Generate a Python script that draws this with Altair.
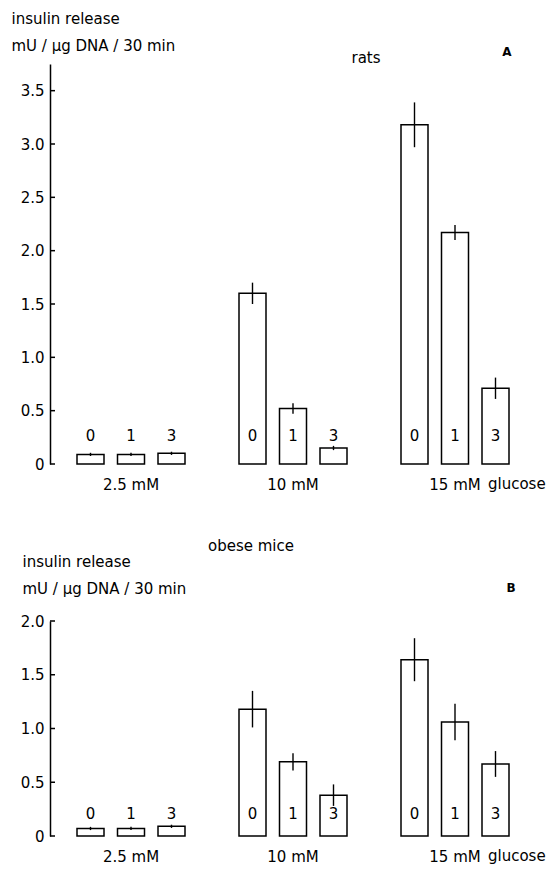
import altair as alt
import pandas as pd

# ---- data ----
groups = ["2.5 mM", "10 mM", "15 mM"]
times = ["0", "1", "3"]

rats_mean = [0.09, 0.09, 0.10, 1.60, 0.52, 0.15, 3.18, 2.17, 0.71]
rats_sem = [0.015, 0.015, 0.015, 0.10, 0.05, 0.02, 0.21, 0.07, 0.10]

mice_mean = [0.07, 0.07, 0.09, 1.18, 0.69, 0.38, 1.64, 1.06, 0.67]
mice_sem = [0.015, 0.015, 0.015, 0.17, 0.08, 0.10, 0.20, 0.17, 0.12]

rats_ticks = [0, 0.5, 1.0, 1.5, 2.0, 2.5, 3.0, 3.5]
mice_ticks = [0, 0.5, 1.0, 1.5, 2.0]

y_title_a = ["insulin release", "mU / μg DNA / 30 min"]
y_title_b = ["insulin  release", "mU / μg DNA / 30 min"]

FONT = "DejaVu Sans"
FS = 15
W = 486


def panel(mean, sem, ticks, ymax, H, y_title, title_x, title_y, label_dy,
          species, sp_x, sp_y, letter, letter_x, letter_y):
    df = pd.DataFrame({
        "glucose": [g for g in groups for _ in times],
        "time": times * 3,
        "mean": mean,
        "sem": sem,
    })
    base = alt.Chart(df)

    x_enc = alt.X(
        "glucose:N", sort=groups,
        scale=alt.Scale(paddingInner=0.25, paddingOuter=0.125),
        axis=alt.Axis(title=None, domain=False, ticks=False, tickSize=0,
                      labelAngle=0, labelPadding=13, labelFont=FONT,
                      labelFontSize=FS, labelColor="black"),
    )
    xo_enc = alt.XOffset("time:N", sort=times,
                         scale=alt.Scale(paddingInner=1 / 3, paddingOuter=1 / 6))
    y_enc = alt.Y(
        "mean:Q",
        scale=alt.Scale(domain=[0, ymax], nice=False, zero=True),
        axis=alt.Axis(
            values=ticks, ticks=False, tickSize=0, grid=False,
            domainColor="black", domainWidth=1.5, labelPadding=6,
            labelFont=FONT, labelFontSize=FS, labelColor="black",
            labelExpr="datum.value == 0 ? '0' : format(datum.value, '.1f')",
            title=y_title, titleAngle=0, titleAlign="left",
            titleBaseline="alphabetic", titleX=title_x, titleY=title_y,
            titleLineHeight=27, titleFont=FONT, titleFontSize=FS,
            titleFontWeight="normal", titleColor="black",
        ),
    )

    bars = base.mark_bar(fill="white", stroke="black", strokeWidth=1.5).encode(
        x=x_enc, xOffset=xo_enc, y=y_enc
    )
    err = base.transform_calculate(
        lo="datum.mean - datum.sem", hi="datum.mean + datum.sem"
    ).mark_rule(color="black", strokeWidth=1.4).encode(
        x=alt.X("glucose:N", sort=groups),
        xOffset=alt.XOffset("time:N", sort=times),
        y="lo:Q", y2="hi:Q",
    )
    labels = base.mark_text(
        font=FONT, fontSize=FS, color="black", baseline="middle", dy=label_dy
    ).encode(
        x=alt.X("glucose:N", sort=groups),
        xOffset=alt.XOffset("time:N", sort=times),
        y=alt.datum(0),
        text="time:N",
    )
    tick_rules = alt.Chart(pd.DataFrame({"v": ticks})).mark_rule(
        color="black", strokeWidth=1.5
    ).encode(y="v:Q", x=alt.value(0), x2=alt.value(5))

    glucose = alt.Chart(pd.DataFrame({"glucose": ["15 mM"], "t": ["glucose"]})).mark_text(
        font=FONT, fontSize=FS, color="black", align="left", baseline="top",
        dx=33, dy=13,
    ).encode(x=alt.X("glucose:N", sort=groups), y=alt.datum(0), text="t:N")

    sp = alt.Chart(pd.DataFrame({"t": [species]})).mark_text(
        font=FONT, fontSize=FS, color="black", baseline="middle"
    ).encode(x=alt.value(sp_x), y=alt.value(sp_y), text="t:N")

    let = alt.Chart(pd.DataFrame({"t": [letter]})).mark_text(
        font=FONT, fontSize=12, fontWeight="bold", color="black", baseline="middle"
    ).encode(x=alt.value(letter_x), y=alt.value(letter_y), text="t:N")

    return alt.layer(bars, err, labels, tick_rules, glucose, sp, let).properties(
        width=W, height=H
    )


panel_a = panel(rats_mean, rats_sem, rats_ticks, 3.75, 400, y_title_a,
                -39, -41, -28, "rats", 316, -6, "A", 457, -12)
panel_b = panel(mice_mean, mice_sem, mice_ticks, 2.0, 215, y_title_b,
                -28, -55, -22, "obese mice", 201, -75, "B", 461, -33)

chart = alt.vconcat(panel_a, panel_b, spacing=47).properties(
    padding={"left": 3, "top": 3, "right": 0, "bottom": 0},
    background="white",
).configure(
    font=FONT,
    view=alt.ViewConfig(stroke=None),
)

chart.save("out.html", embed_options={"renderer": "svg", "actions": False})
